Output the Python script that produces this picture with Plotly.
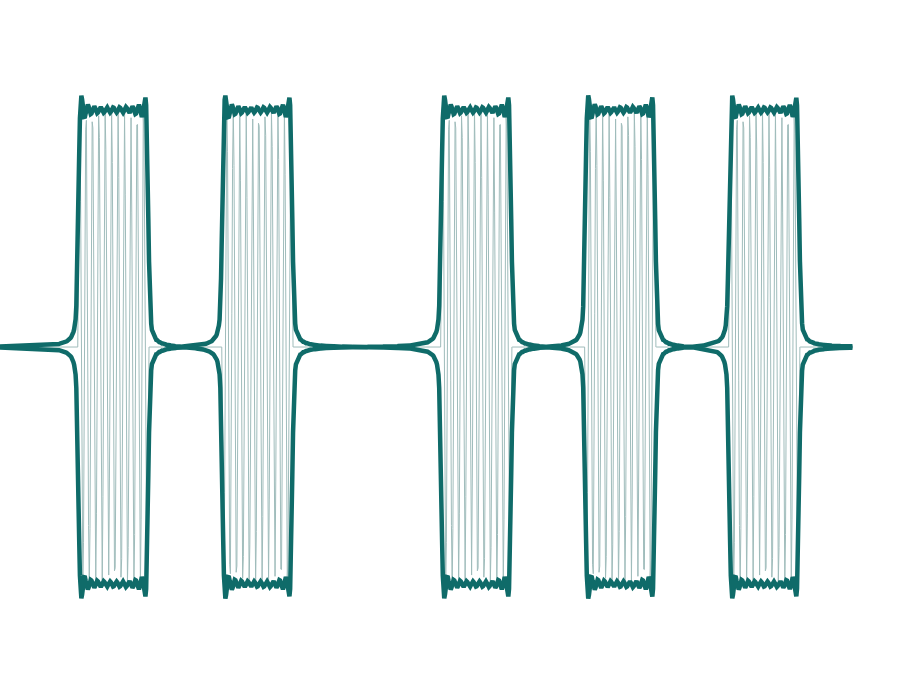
import numpy as np
import plotly.graph_objects as go

# --- data (seconds) ---
pulse_starts = [0.1085, 0.3085, 0.6125, 0.8125, 1.0125]
pulse_ends = [0.2060, 0.4060, 0.7100, 0.9100, 1.1100]
pulse_amplitude = [1.0, 1.0, 1.0, 1.0, 1.0]
pulse_phase_deg = [0, 180, 0, 180, 0]
carrier_hz = 112.8
sample_rate = 1000.0
duration = 1.185
smooth_samples = 5

t = np.arange(0, duration, 1.0 / sample_rate)
signal = np.zeros_like(t)
for s, e, a, p in zip(pulse_starts, pulse_ends, pulse_amplitude, pulse_phase_deg):
    m = (t >= s) & (t < e)
    signal[m] = a * np.sin(2 * np.pi * carrier_hz * (t[m] - s) + np.radians(p))

# analytic-signal envelope (Hilbert transform via FFT, zero padded)
n0 = len(signal)
pad = n0
padded = np.concatenate([np.zeros(pad), signal, np.zeros(pad)])
N = len(padded)
X = np.fft.fft(padded)
h = np.zeros(N)
if N % 2 == 0:
    h[0] = h[N // 2] = 1
    h[1:N // 2] = 2
else:
    h[0] = 1
    h[1:(N + 1) // 2] = 2
env_full = np.abs(np.fft.ifft(X * h))
kernel = np.ones(smooth_samples) / smooth_samples
env_full = np.convolve(env_full, kernel, mode="same")
envelope = env_full[pad:pad + n0]

fig = go.Figure()
fig.add_trace(go.Scatter(x=t, y=signal, mode="lines",
                         line=dict(color="#9fbcbb", width=1), showlegend=False))
fig.add_trace(go.Scatter(x=t, y=envelope, mode="lines",
                         line=dict(color="#0f6b69", width=4.5), showlegend=False))
fig.add_trace(go.Scatter(x=t, y=-envelope, mode="lines",
                         line=dict(color="#0f6b69", width=4.5), showlegend=False))

fig.update_layout(
    width=906, height=695,
    margin=dict(l=0, r=0, t=0, b=0),
    paper_bgcolor="white", plot_bgcolor="white",
    xaxis=dict(range=[0, 906 / 720], visible=False),
    yaxis=dict(range=[-1.468, 1.464], visible=False),
)
fig.write_html("out.html")
